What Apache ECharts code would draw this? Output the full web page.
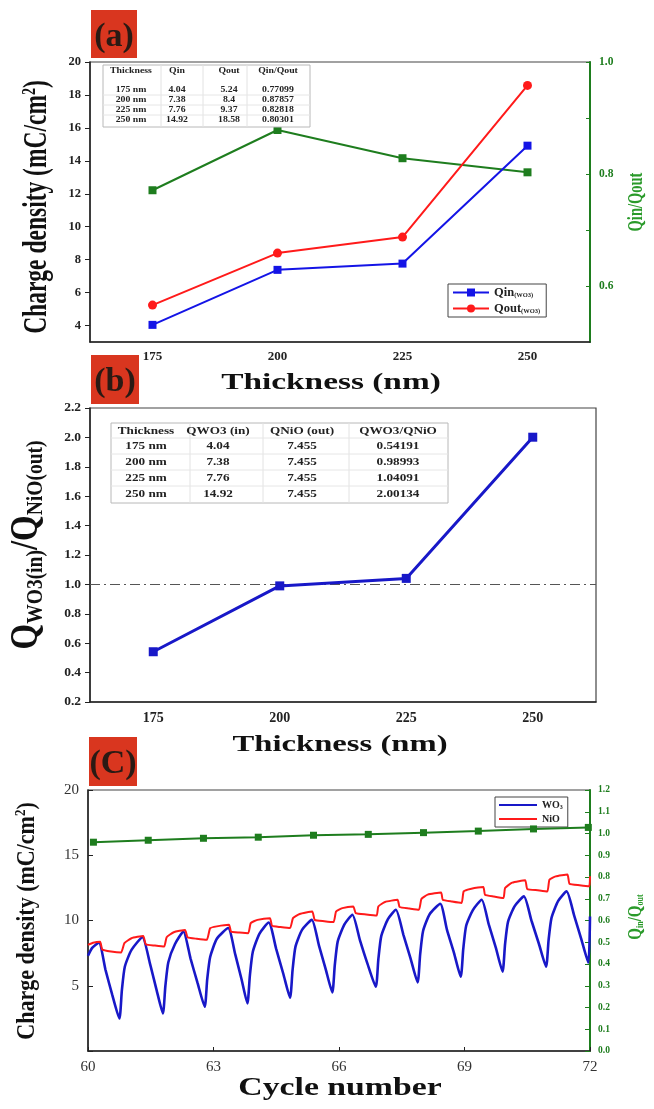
<!DOCTYPE html>
<html><head><meta charset="utf-8">
<script src="https://cdn.jsdelivr.net/npm/echarts@6/dist/echarts.min.js"></script>
<style>html,body{margin:0;padding:0;background:#fff}#c{width:654px;height:1109px}</style>
</head><body><div id="c"></div>
<script>
// ---------- DATA ----------
const thicknessCats = ['175', '200', '225', '250'];
const qinA = [4.04, 7.38, 7.76, 14.92];
const qoutA = [5.24, 8.4, 9.37, 18.58];
const ratioA = [0.77099, 0.87857, 0.82818, 0.80301];
const ratioB = [0.54191, 0.98993, 1.04091, 2.00134];
const leftTicksA = [4, 6, 8, 10, 12, 14, 16, 18, 20];
const rightTicksA = [0.6, 0.7, 0.8, 0.9, 1.0];
const rightLabelsA = [0.6, 0.8, 1.0];
const leftLabelsC = [5, 10, 15, 20];

const tableAHeader = ['Thickness', 'Qin', 'Qout', 'Qin/Qout'];
const tableARows = [
  ['175 nm', '4.04', '5.24', '0.77099'],
  ['200 nm', '7.38', '8.4', '0.87857'],
  ['225 nm', '7.76', '9.37', '0.82818'],
  ['250 nm', '14.92', '18.58', '0.80301']
];
const tableBHeader = ['Thickness', 'QWO3 (in)', 'QNiO (out)', 'QWO3/QNiO'];
const tableBRows = [
  ['175 nm', '4.04', '7.455', '0.54191'],
  ['200 nm', '7.38', '7.455', '0.98993'],
  ['225 nm', '7.76', '7.455', '1.04091'],
  ['250 nm', '14.92', '7.455', '2.00134']
];

// cycle number vs charge density
const wo3Curve = [
[60.00,7.30],[60.10,7.90],[60.26,8.31],[60.42,6.20],[60.58,4.30],[60.75,2.49],
[60.81,4.67],[60.88,6.46],[61.04,7.75],[61.30,8.72],[61.48,6.72],[61.64,4.67],[61.79,2.88],
[61.85,5.00],[61.92,6.80],[62.08,8.20],[62.28,9.15],[62.45,7.10],[62.62,5.20],[62.79,3.39],
[62.85,5.50],[62.92,7.20],[63.08,8.60],[63.35,9.42],[63.52,7.40],[63.67,5.50],[63.81,3.65],
[63.87,5.80],[63.94,7.60],[64.10,9.00],[64.32,9.85],[64.50,7.80],[64.67,5.90],[64.83,4.08],
[64.89,6.20],[64.96,8.00],[65.12,9.30],[65.35,10.05],[65.52,8.10],[65.68,6.30],[65.84,4.49],
[65.90,6.60],[65.97,8.40],[66.13,9.70],[66.32,10.44],[66.50,8.50],[66.68,6.70],[66.88,4.92],
[66.94,7.00],[67.01,8.80],[67.17,10.10],[67.36,10.82],[67.54,8.90],[67.71,7.10],[67.88,5.26],
[67.94,7.40],[68.01,9.20],[68.17,10.50],[68.42,11.28],[68.58,9.30],[68.75,7.50],[68.91,5.69],
[68.97,7.80],[69.04,9.60],[69.20,10.80],[69.41,11.59],[69.58,9.70],[69.75,7.90],[69.91,6.08],
[69.97,8.20],[70.04,9.90],[70.20,11.10],[70.42,11.85],[70.60,10.00],[70.78,8.20],[70.95,6.46],
[71.01,8.50],[71.08,10.20],[71.24,11.50],[71.44,12.23],[71.62,10.40],[71.79,8.60],[71.96,6.77],
[72.00,10.30]
];
const nioCurve = [
[60.00,8.13],[60.12,8.30],[60.29,8.38],[60.34,7.78],[60.55,7.62],[60.79,7.54],
[60.87,8.26],[61.04,8.64],[61.32,8.82],[61.38,8.18],[61.60,8.08],[61.82,8.00],
[61.88,8.72],[62.05,9.10],[62.32,9.28],[62.38,8.72],[62.60,8.60],[62.84,8.52],
[62.92,9.41],[63.08,9.55],[63.37,9.67],[63.42,9.15],[63.62,9.08],[63.83,9.03],
[63.89,9.80],[64.05,10.05],[64.35,10.18],[64.40,9.59],[64.60,9.50],[64.83,9.42],
[64.90,10.18],[65.06,10.50],[65.36,10.69],[65.42,10.05],[65.65,9.95],[65.87,9.88],
[65.93,10.69],[66.08,10.95],[66.34,11.08],[66.40,10.57],[66.65,10.46],[66.90,10.38],
[66.94,11.08],[67.10,11.42],[67.40,11.59],[67.45,11.03],[67.68,10.92],[67.91,10.82],
[67.97,11.65],[68.12,11.98],[68.44,12.15],[68.48,11.59],[68.70,11.45],[68.93,11.34],
[68.98,12.23],[69.14,12.42],[69.45,12.57],[69.49,11.98],[69.70,11.84],[69.93,11.72],
[69.97,12.49],[70.14,12.90],[70.45,13.08],[70.50,12.42],[70.75,12.32],[70.98,12.23],
[71.03,13.13],[71.18,13.38],[71.46,13.52],[71.51,12.82],[71.75,12.70],[71.98,12.62],
[72.00,13.40]
];
const ratioCycle = [
[60.13,0.960],[61.44,0.969],[62.76,0.978],[64.07,0.983],[65.39,0.992],
[66.70,0.996],[68.02,1.004],[69.33,1.011],[70.65,1.021],[71.96,1.028]
];

// ---------- STYLE ----------
const SERIF = "'Liberation Serif','Times New Roman',serif";
const BLUE = '#1414e6', RED = '#ff1a1a', GREEN = '#1e7d1e', GREEN_T = '#2a9a2a';
const BLUE_C = '#1818c8';
const boxRed = '#d9361f';

function bold(sz){ return 'bold ' + sz + 'px ' + SERIF; }
function lbl(sz, isBold, color, extra){
  return Object.assign({fontFamily:SERIF, fontWeight:isBold ? 'bold' : 'normal', fontSize:sz, color:color}, extra || {});
}

function buildTable(header, rows, cfg){
  const els = [];
  els.push({type:'rect', shape:{x:cfg.x, y:cfg.y, width:cfg.w, height:cfg.h},
    style:{fill:'#fff', stroke:'#b8b8b8', lineWidth:1}, z:50});
  cfg.sep.forEach(sx => els.push({type:'line', shape:{x1:sx, y1:cfg.y, x2:sx, y2:cfg.y+cfg.h},
    style:{stroke:'#e2e2e2', lineWidth:1}, z:51}));
  cfg.hsep.forEach(sy => els.push({type:'line', shape:{x1:cfg.x, y1:sy, x2:cfg.x+cfg.w, y2:sy},
    style:{stroke:'#e6e6e6', lineWidth:1}, z:51}));
  const all = [header].concat(rows);
  all.forEach((row, ri) => {
    row.forEach((t, ci) => {
      els.push({type:'text', x:cfg.cols[ci], y:cfg.rowsY[ri], scaleX:cfg.sx, z:52,
        style:{text:t, font:bold(cfg.fs), fill:'#222', textAlign:'center', textVerticalAlign:'middle'}});
    });
  });
  return els;
}

function hTitle(txt, cx, cy, fs, sx, rich){
  return {type:'text', x:cx, y:cy, scaleX:sx, z:60,
    style:{text:txt, font:bold(fs), fill:'#111', textAlign:'center', textVerticalAlign:'middle', rich:rich}};
}
function vTitle(txt, cx, cy, fs, sy, color, rich){
  return {type:'text', x:cx, y:cy, rotation:Math.PI/2, scaleY:sy, z:60,
    style:{text:txt, font:bold(fs), fill:color||'#111', textAlign:'center', textVerticalAlign:'middle', rich:rich}};
}

const graphics = [];
// panel tags
[[91,10,46,48,'(a)'],[91,355,48,49,'(b)'],[89,737,48,49,'(C)']].forEach(p => {
  graphics.push({type:'rect', shape:{x:p[0], y:p[1], width:p[2], height:p[3]}, style:{fill:boxRed}, z:40});
  graphics.push({type:'text', x:p[0]+p[2]/2, y:p[1]+p[3]/2+3, z:41,
    style:{text:p[4], font:bold(34), fill:'#2a1a14', textAlign:'center', textVerticalAlign:'middle'}});
});
// axis titles
graphics.push(hTitle('Thickness (nm)', 331, 383, 23, 1.45));
graphics.push(hTitle('Thickness (nm)', 340, 745, 23, 1.42));
graphics.push(hTitle('Cycle number', 340, 1089, 25, 1.35));
graphics.push(vTitle('{t|Charge density (mC/cm}{p|2}{t|)}', 37, 207, 23.5, 1.4, '#111',
  {t:{font:bold(23.5), fill:'#111'}, p:{font:bold(14), fill:'#111', verticalAlign:'top', padding:[0,0,10,0]}}));
graphics.push(vTitle('{t|Charge density (mC/cm}{p|2}{t|)}', 27, 921, 22, 1.15, '#111',
  {t:{font:bold(22), fill:'#111'}, p:{font:bold(13), fill:'#111', verticalAlign:'top', padding:[0,0,10,0]}}));
graphics.push(vTitle('Qin/Qout', 636, 202, 14.5, 1.5, GREEN_T));
graphics.push(vTitle('{q|Q}{s|in}{q|/Q}{s|out}', 636, 917, 15, 1.3, GREEN_T,
  {q:{font:bold(15), fill:GREEN_T}, s:{font:bold(8), fill:GREEN_T, verticalAlign:'bottom', padding:[6,0,0,0]}}));
graphics.push(vTitle('{q|Q}{s|WO3(in)}{q|/Q}{s|NiO(out)}', 27, 545, 33, 1.2, '#111',
  {q:{font:bold(33), fill:'#111'}, s:{font:bold(19.5), fill:'#111', verticalAlign:'bottom', padding:[15,0,0,0]}}));
// tables
buildTable(tableAHeader, tableARows, {x:103, y:65, w:207, h:62, sep:[161,203,247], hsep:[95,105,115],
  cols:[131,177,229,278], rowsY:[71,90,100,110,120], fs:8.5, sx:1.15}).forEach(e => graphics.push(e));
buildTable(tableBHeader, tableBRows, {x:111, y:423, w:337, h:80, sep:[190,263,349], hsep:[438,454,470,486],
  cols:[146,218,302,398], rowsY:[431,446,462,478,494], fs:11, sx:1.2}).forEach(e => graphics.push(e));

const lineAx = {lineStyle:{color:'#222', width:1.5}};
const option = {
  animation:false,
  backgroundColor:'#fff',
  grid:[
    {left:90, top:62, width:500, height:280, show:true, borderColor:'#444', borderWidth:1.2},
    {left:90, top:408, width:506, height:294, show:true, borderColor:'#444', borderWidth:1.2},
    {left:88, top:790, width:502, height:261, show:true, borderColor:'#444', borderWidth:1.2}
  ],
  xAxis:[
    {gridIndex:0, type:'category', data:thicknessCats, boundaryGap:true, axisLine:lineAx,
     axisTick:{alignWithLabel:true, inside:true, length:5, lineStyle:{color:'#222'}},
     axisLabel:lbl(13, true, '#222', {margin:8}), splitLine:{show:false}},
    {gridIndex:1, type:'category', data:thicknessCats, boundaryGap:true, axisLine:lineAx,
     axisTick:{alignWithLabel:true, inside:true, length:5, lineStyle:{color:'#222'}},
     axisLabel:lbl(14, true, '#222', {margin:9}), splitLine:{show:false}},
    {gridIndex:2, type:'value', min:60, max:72, interval:3, axisLine:lineAx,
     axisTick:{inside:true, length:4, lineStyle:{color:'#222'}},
     axisLabel:lbl(15, false, '#333', {margin:9}), splitLine:{show:false}}
  ],
  yAxis:[
    {gridIndex:0, type:'value', min:3, max:20, axisLine:{show:true, lineStyle:{color:'#222', width:1.5}},
     axisTick:{show:true, inside:false, length:5, customValues:leftTicksA, lineStyle:{color:'#222'}},
     axisLabel:lbl(12.5, true, '#222', {margin:9, customValues:leftTicksA}), splitLine:{show:false}},
    {gridIndex:0, type:'value', position:'right', min:0.5, max:1.0,
     axisLine:{show:true, lineStyle:{color:GREEN, width:2}},
     axisTick:{show:true, inside:true, length:4, customValues:rightTicksA, lineStyle:{color:GREEN}},
     axisLabel:lbl(11.5, true, GREEN, {margin:9, customValues:rightLabelsA, formatter:v => (+v).toFixed(1)}),
     splitLine:{show:false}},
    {gridIndex:1, type:'value', min:0.2, max:2.2, interval:0.2, axisLine:{show:true, lineStyle:{color:'#222', width:1.5}},
     axisTick:{show:true, inside:false, length:5, lineStyle:{color:'#222'}},
     axisLabel:lbl(13.5, true, '#222', {margin:9, formatter:v => (+v).toFixed(1)}), splitLine:{show:false}},
    {gridIndex:2, type:'value', min:0, max:20, interval:5, axisLine:{show:true, lineStyle:{color:'#222', width:1.5}},
     axisTick:{show:true, inside:true, length:5, lineStyle:{color:'#222'}},
     axisLabel:lbl(15, false, '#333', {margin:9, customValues:leftLabelsC}), splitLine:{show:false}},
    {gridIndex:2, type:'value', position:'right', min:0, max:1.2, interval:0.1,
     axisLine:{show:true, lineStyle:{color:GREEN, width:2}},
     axisTick:{show:true, inside:true, length:5, lineStyle:{color:GREEN}},
     axisLabel:lbl(9.5, true, GREEN, {margin:8, formatter:v => (+v).toFixed(1)}), splitLine:{show:false}}
  ],
  legend:[
    {data:['Qin','Qout'], left:448, top:284, orient:'vertical', itemWidth:36, itemHeight:10, itemGap:3,
     padding:[2,6,2,4], borderColor:'#444', borderWidth:1, backgroundColor:'#fff',
     formatter:n => '{b|' + n + '}{s|(WO3)}',
     textStyle:{rich:{b:lbl(12.5, true, '#222'), s:lbl(6.5, true, '#222', {verticalAlign:'bottom', padding:[5,0,0,0]})}}},
    {data:[{name:'WO3', icon:'rect'}, {name:'NiO', icon:'rect'}], left:495, top:797, orient:'vertical',
     itemWidth:38, itemHeight:2, itemGap:4,
     padding:[3,5,3,4], borderColor:'#444', borderWidth:1, backgroundColor:'#fff',
     formatter:n => n === 'WO3' ? '{b|WO}{s|3}' : '{b|NiO}',
     textStyle:{rich:{b:lbl(10, true, '#222'), s:lbl(6, true, '#222', {verticalAlign:'bottom', padding:[4,0,0,0]})}}}
  ],
  series:[
    {name:'Qin', type:'line', xAxisIndex:0, yAxisIndex:0, data:qinA, symbol:'rect', symbolSize:8,
     itemStyle:{color:BLUE}, lineStyle:{color:BLUE, width:2}, z:5},
    {name:'Qout', type:'line', xAxisIndex:0, yAxisIndex:0, data:qoutA, symbol:'circle', symbolSize:9,
     itemStyle:{color:RED}, lineStyle:{color:RED, width:2}, z:5},
    {name:'Qin/Qout', type:'line', xAxisIndex:0, yAxisIndex:1, data:ratioA, symbol:'rect', symbolSize:8,
     itemStyle:{color:GREEN}, lineStyle:{color:GREEN, width:2}, z:4},
    {name:'QWO3/QNiO', type:'line', xAxisIndex:1, yAxisIndex:2, data:ratioB, symbol:'rect', symbolSize:9,
     itemStyle:{color:BLUE_C}, lineStyle:{color:BLUE_C, width:3}, z:5,
     markLine:{silent:true, symbol:'none', label:{show:false},
       lineStyle:{color:'#555', width:1.2, type:[10,4,2,4]}, data:[{yAxis:1}]}},
    {name:'WO3', type:'line', xAxisIndex:2, yAxisIndex:3, data:wo3Curve, symbol:'none', smooth:0.2,
     itemStyle:{color:BLUE_C}, lineStyle:{color:BLUE_C, width:2.6}, z:4},
    {name:'NiO', type:'line', xAxisIndex:2, yAxisIndex:3, data:nioCurve, symbol:'none', smooth:0.15,
     itemStyle:{color:RED}, lineStyle:{color:RED, width:2}, z:5},
    {name:'Qin/Qout (cycle)', type:'line', xAxisIndex:2, yAxisIndex:4, data:ratioCycle, symbol:'rect', symbolSize:7,
     itemStyle:{color:GREEN}, lineStyle:{color:GREEN, width:2}, z:6}
  ],
  graphic:graphics
};
const chart = echarts.init(document.getElementById('c'), null, {renderer:'canvas'});
chart.setOption(option);
</script></body></html>
